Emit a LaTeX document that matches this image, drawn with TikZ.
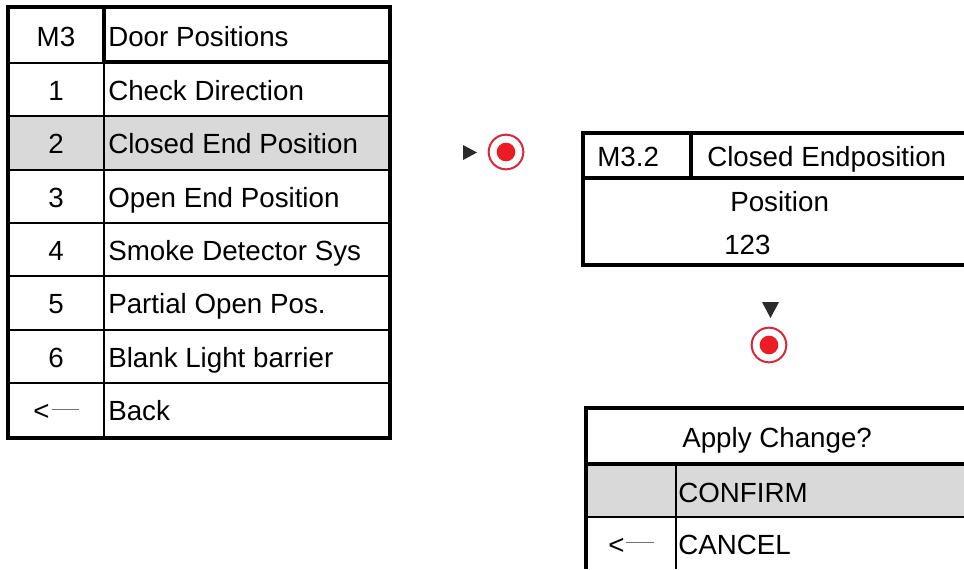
\documentclass[tikz,border=0pt]{standalone}
\usepackage{fontspec}
\setmainfont{Liberation Sans}
\definecolor{hl}{HTML}{D9D9D9}
\definecolor{ringred}{HTML}{D8283C}
\definecolor{dotred}{HTML}{EC1C24}
\definecolor{tri}{HTML}{2B2B2B}
\tikzset{
  x=0.75pt,y=-0.75pt,
  txt/.style={font=\fontsize{20.8pt}{24pt}\selectfont,text=black,inner sep=0pt,anchor=base},
  ltxt/.style={txt,anchor=base west},
  thick line/.style={line width=2.8pt,black},
  mid line/.style={line width=1.6pt,black},
  thin line/.style={line width=1pt,black},
  dash line/.style={line width=1.3pt,black!55},
  shade band/.style={fill=hl,draw=none},
  ring/.style={circle,draw=ringred,line width=1.5pt,fill=white,minimum size=26pt,inner sep=0pt},
  dot/.style={circle,fill=dotred,minimum size=14pt,inner sep=0pt},
  triangle mark/.style={fill=tri,draw=none}
}
\begin{document}
\begin{tikzpicture}
\useasboundingbox (0,0) rectangle (964,569);
\fill[white] (0,0) rectangle (964,569);
% left table
\fill[shade band] (8,117) rectangle (390,170);
\draw[thin line] (104,63) -- (104,438);
\draw[thick line] (104,7) -- (104,63);
\draw[thick line] (104,62) -- (390,62);
\draw[mid line] (8,63) -- (104,63);
\foreach \yy in {116,170,223,276,330,383} \draw[mid line] (8,\yy) -- (390,\yy);
\draw[mid line] (104,383) -- (104,438);
\draw[thick line] (8,7) rectangle (390,438);
\node[txt] (a0) at (56,46) {M3};
\node[ltxt] (b0) at (108,46) {Door Positions};
\node[txt] (a1) at (56,100) {1};
\node[ltxt] (b1) at (108,100) {Check Direction};
\node[txt] (a2) at (56,153) {2};
\node[ltxt] (b2) at (108,153) {Closed End Position};
\node[txt] (a3) at (56,207) {3};
\node[ltxt] (b3) at (108,207) {Open End Position};
\node[txt] (a4) at (56,260) {4};
\node[ltxt] (b4) at (108,260) {Smoke Detector Sys};
\node[txt] (a5) at (56,313) {5};
\node[ltxt] (b5) at (108,313) {Partial Open Pos.};
\node[txt] (a6) at (56,367) {6};
\node[ltxt] (b6) at (108,367) {Blank Light barrier};
\node[ltxt] (a7) at (33,420) {<};
\node[ltxt] (b7) at (108,420) {Back};
% icon 1
\fill[triangle mark] (463,145) -- (477,152.5) -- (463,160) -- cycle;
\node[ring] (r1) at (506,152) {};
\node[dot] (d1) at (506,152) {};
% table 2
\draw[thick line] (964,133) -- (583,133) -- (583,265) -- (964,265);
\draw[thick line] (691,133) -- (691,178);
\draw[thick line] (583,178) -- (964,178);
\node[ltxt] (m32) at (597,166) {M3.2};
\node[ltxt] (ce) at (707,166) {Closed Endposition};
\node[ltxt] (pos) at (730,211) {Position};
\node[ltxt] (val) at (724,254) {123};
% icon 2
\fill[triangle mark] (762,302) -- (779,302) -- (770.5,318) -- cycle;
\node[ring] (r2) at (769,345) {};
\node[dot] (d2) at (769,345) {};
% table 3
\fill[shade band] (587,466) rectangle (964,516);
\draw[thick line] (964,408) -- (586,408) -- (586,569);
\draw[thick line] (586,464) -- (964,464);
\draw[mid line] (586,517) -- (964,517);
\draw[thin line] (676,466) -- (676,517);
\draw[mid line] (676,517) -- (676,569);
\node[ltxt] (ac) at (682,447) {Apply Change?};
\node[ltxt] (cf) at (678,502) {CONFIRM};
\node[ltxt] (cn) at (678,554) {CANCEL};
\node[ltxt] (lt) at (608,554) {<};
% back arrows' dashes
\draw[dash line] (52,409.5) -- (79,409.5);
\draw[dash line] (626,542.5) -- (654,542.5);
\end{tikzpicture}
\end{document}
